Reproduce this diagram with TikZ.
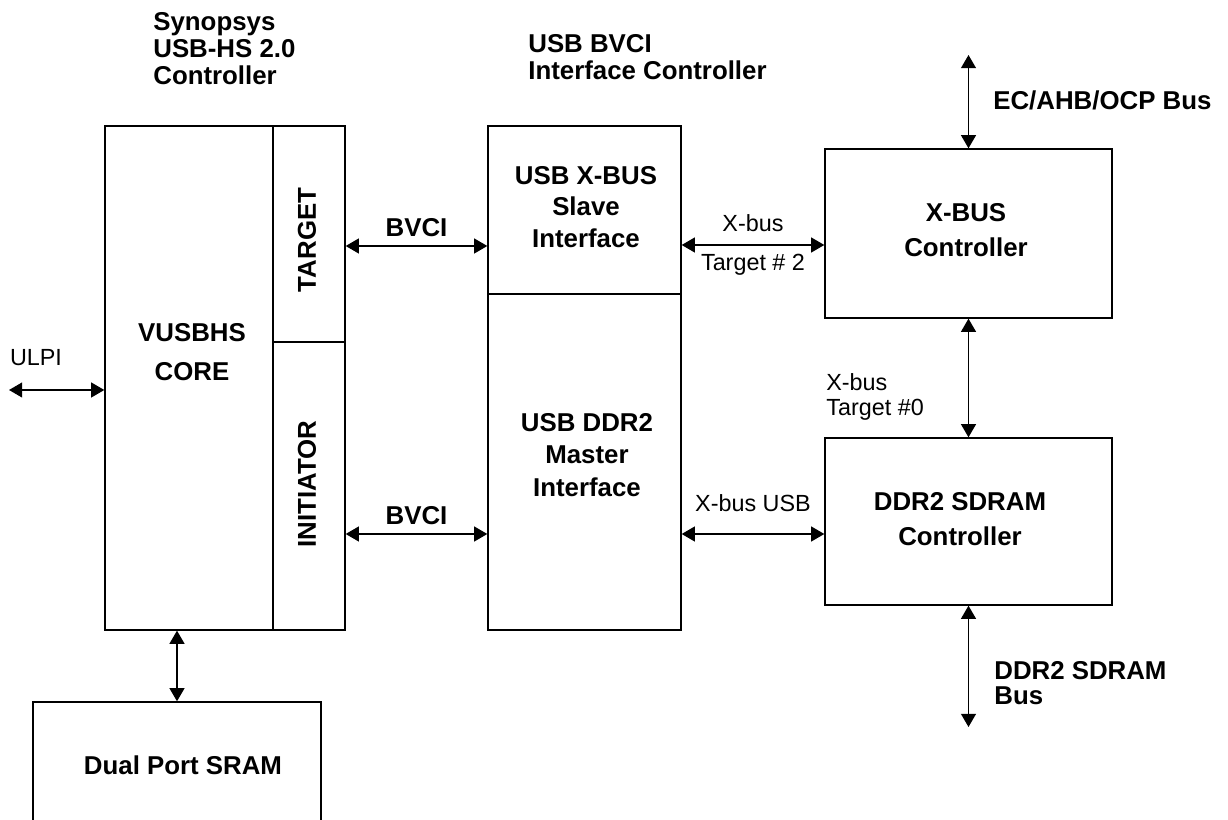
\documentclass[tikz,border=0pt]{standalone}
\usepackage{fontspec}
\setmainfont{Liberation Sans}
\usetikzlibrary{arrows.meta}

\begin{document}
\begin{tikzpicture}[x=0.02cm,y=-0.02cm,
    blk/.style={draw,line width=0.8pt,inner sep=0pt},
    bold/.style={font=\fontsize{14.7}{#1}\selectfont\bfseries,align=center,inner sep=0pt},
    bold/.default=19,
    lbl/.style={font=\fontsize{13.3}{14.2}\selectfont,inner sep=0pt},
    bus/.style={{Triangle[length=7.5pt,width=8.5pt]}-{Triangle[length=7.5pt,width=8.5pt]},line width=0.8pt}]
    \useasboundingbox (0,0) rectangle (1228,820);
    \node[blk,minimum width=3.36cm,minimum height=10.08cm] (core) at (189,378) {};
    \node[blk,minimum width=1.44cm,minimum height=4.32cm] (target) at (309,234) {};
    \node[blk,minimum width=1.44cm,minimum height=5.76cm] (initiator) at (309,486) {};
    \node[blk,minimum width=3.86cm,minimum height=3.36cm] (slave) at (584.5,210) {};
    \node[blk,minimum width=3.86cm,minimum height=6.72cm] (master) at (584.5,462) {};
    \node[blk,minimum width=5.74cm,minimum height=3.38cm] (xbus) at (968.5,233.5) {};
    \node[blk,minimum width=5.74cm,minimum height=3.34cm] (ddr) at (968.5,521.5) {};
    \node[blk,minimum width=5.76cm,minimum height=2.52cm] (sram) at (177,765) {};
    \node[bold=15.3,align=left,anchor=north west] (usbhs) at (153,12) {Synopsys\\USB-HS 2.0\\Controller};
    \node[bold=15.3,align=left,anchor=north west] (bvcictl) at (528,34) {USB BVCI\\Interface Controller};
    \node[bold=22] (coretxt) at (192,352) {VUSBHS\\CORE};
    \node[bold,rotate=90] (targettxt) at (307,240) {TARGET};
    \node[bold,rotate=90] (initiatortxt) at (307,484) {INITIATOR};
    \node[bold=18.1] (slavetxt) at (586,207) {USB X-BUS\\Slave\\Interface};
    \node[bold=18.7] (mastertxt) at (587,455) {USB DDR2\\Master\\Interface};
    \node[bold=19.8] (xbustxt) at (966,230.5) {X-BUS\\Controller};
    \node[bold=19.8] (ddrtxt) at (960,519.5) {DDR2 SDRAM\\Controller};
    \node[bold] (sramtxt) at (183,765) {Dual Port SRAM};
    \coordinate (ulpi) at (9,390);
    \coordinate (bvcia) at (0,246);
    \coordinate (bvcib) at (0,534);
    \coordinate (xba) at (0,245);
    \coordinate (xbb) at (0,534);
    \coordinate (ecbus) at (968.5,55);
    \coordinate (ddrbus) at (968.5,727);
    \draw[bus] (ulpi) -- (core.west |- ulpi);
    \node[lbl] (ulpitxt) at (36,358) {ULPI};
    \draw[bus] (target.east |- bvcia) -- node[bold,above=5pt] (bvciatxt) {BVCI} (slave.west |- bvcia);
    \draw[bus] (initiator.east |- bvcib) -- node[bold,above=5pt] (bvcibtxt) {BVCI} (master.west |- bvcib);
    \draw[bus] (slave.east |- xba) -- node[lbl,above=7pt] (xbatxt) {X-bus} node[lbl,below=5pt] (tgtatxt) {Target \# 2} (xbus.west |- xba);
    \draw[bus] (master.east |- xbb) -- node[lbl,above=12.5pt] (xbbtxt) {X-bus USB} (ddr.west |- xbb);
    \draw[bus] (xbus.south) -- (ddr.north);
    \node[lbl,align=left,anchor=north west] (tgtbtxt) at (826,373.5) {X-bus\\Target \#0};
    \draw[bus] (ecbus) -- (xbus.north);
    \node[bold,anchor=west] (ectxt) at (993,100) {EC/AHB/OCP Bus};
    \draw[bus] (ddr.south) -- (ddrbus);
    \node[bold=14.2,align=left,anchor=north west] (ddrbustxt) at (994,661) {DDR2 SDRAM\\Bus};
    \draw[bus] (sram.north) -- (sram.north |- core.south);
\end{tikzpicture}
\end{document}
